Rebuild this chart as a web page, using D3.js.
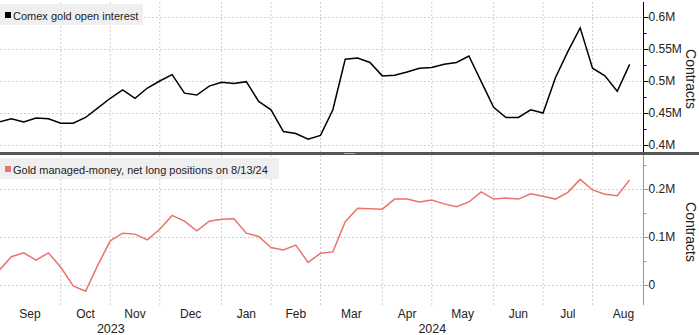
<!DOCTYPE html>
<html>
<head>
<meta charset="utf-8">
<script src="https://cdn.jsdelivr.net/npm/d3@7"></script>
<style>
  html, body { margin: 0; padding: 0; background: #fff; }
  svg { display: block; font-family: "Liberation Sans", Arial, sans-serif; }
</style>
</head>
<body>
<svg id="chart" width="699" height="335"></svg>
<script>
// Weekly observation dates (week ending Friday)
const dates = [
  "2023-09-01","2023-09-08","2023-09-15","2023-09-22","2023-09-29",
  "2023-10-06","2023-10-13","2023-10-20","2023-10-27",
  "2023-11-03","2023-11-10","2023-11-17","2023-11-24",
  "2023-12-01","2023-12-08","2023-12-15","2023-12-22","2023-12-29",
  "2024-01-05","2024-01-12","2024-01-19","2024-01-26",
  "2024-02-02","2024-02-09","2024-02-16","2024-02-23",
  "2024-03-01","2024-03-08","2024-03-15","2024-03-22","2024-03-29",
  "2024-04-05","2024-04-12","2024-04-19","2024-04-26",
  "2024-05-03","2024-05-10","2024-05-17","2024-05-24","2024-05-31",
  "2024-06-07","2024-06-14","2024-06-21","2024-06-28",
  "2024-07-05","2024-07-12","2024-07-19","2024-07-26",
  "2024-08-02","2024-08-09","2024-08-16","2024-08-23"
];

// Comex gold open interest, millions of contracts
const openInterest = [
  0.436, 0.441, 0.436, 0.442, 0.441, 0.434, 0.434, 0.443, 0.458, 0.473,
  0.486, 0.473, 0.489, 0.500, 0.510, 0.481, 0.478, 0.492, 0.498, 0.496,
  0.499, 0.468, 0.455, 0.421, 0.418, 0.409, 0.415, 0.455, 0.534, 0.536,
  0.529, 0.508, 0.509, 0.514, 0.520, 0.521, 0.526, 0.529, 0.539, 0.499,
  0.459, 0.443, 0.443, 0.455, 0.450, 0.505, 0.546, 0.583, 0.520, 0.508,
  0.484, 0.526
];

// Gold managed-money net long positions, millions of contracts
const netLong = [
  0.030, 0.059, 0.067, 0.052, 0.067, 0.037, -0.002, -0.013, 0.042, 0.092,
  0.108, 0.106, 0.094, 0.116, 0.145, 0.133, 0.113, 0.133, 0.137, 0.138,
  0.108, 0.101, 0.078, 0.073, 0.083, 0.047, 0.066, 0.069, 0.132, 0.160,
  0.159, 0.158, 0.179, 0.179, 0.173, 0.177, 0.169, 0.163, 0.173, 0.194,
  0.179, 0.181, 0.179, 0.190, 0.185, 0.179, 0.193, 0.220, 0.198, 0.189,
  0.186, 0.219
];

const topTicks = [0.4, 0.45, 0.5, 0.55, 0.6];
const topMinor = [0.425, 0.475, 0.525, 0.575];
const topTickLabels = ["0.4M", "0.45M", "0.5M", "0.55M", "0.6M"];
const botTicks = [0, 0.1, 0.2];
const botMinor = [0.05, 0.15, 0.25];
const botTickLabels = ["0", "0.1M", "0.2M"];
const monthNames = ["Jan","Feb","Mar","Apr","May","Jun","Jul","Aug","Sep","Oct","Nov","Dec"];

const legendTop = "Comex gold open interest";
const legendBot = "Gold managed-money, net long positions on 8/13/24";
const axisTitle = "Contracts";

const black = "#000000";
const salmon = "#ea736b";
const gridColor = "#cfcfcf";

const svg = d3.select("#chart");
const parse = d3.timeParse("%Y-%m-%d");
const parsed = dates.map(parse);

const axisX = 643;
const x = d3.scaleLinear().domain([0, 52]).range([-1, 642]);

const topPanel = { y0: 2, y1: 152 };
const botPanel = { y0: 155, y1: 305 };

const yTop = d3.scaleLinear().domain([0.4, 0.6]).range([145, 17]);
const yBot = d3.scaleLinear().domain([0, 0.2]).range([285, 189]);

// index of the first observation in each month
const monthStarts = [];
parsed.forEach((d, i) => {
  if (i === 0 || d.getMonth() !== parsed[i - 1].getMonth()) monthStarts.push(i);
});
const gridIdx = monthStarts.slice(1);

function verticalGrid(p) {
  svg.append("g").selectAll("line").data(gridIdx).join("line")
    .attr("x1", d => x(d)).attr("x2", d => x(d))
    .attr("y1", p.y0).attr("y2", p.y1)
    .attr("stroke", gridColor).attr("stroke-width", 1)
    .attr("stroke-dasharray", "2,2");
}

function horizontalGrid(scale, ticks) {
  svg.append("g").selectAll("line").data(ticks).join("line")
    .attr("x1", 0).attr("x2", axisX)
    .attr("y1", d => Math.round(scale(d)) + 0.5).attr("y2", d => Math.round(scale(d)) + 0.5)
    .attr("stroke", gridColor).attr("stroke-width", 1)
    .attr("stroke-dasharray", "2,2");
}

verticalGrid(topPanel);
horizontalGrid(yTop, topTicks);
verticalGrid(botPanel);
horizontalGrid(yBot, botTicks);

// Right-hand value axes
function rightAxis(scale, ticks, labels, minor, color, p) {
  const g = svg.append("g");
  const ax = d3.axisRight(scale).tickValues(ticks).tickSize(5)
    .tickFormat((d, i) => labels[i]);
  const a = g.append("g").attr("transform", `translate(${axisX + 0.5},0)`).call(ax);
  a.select(".domain").remove();
  a.selectAll(".tick line").attr("stroke", color);
  a.selectAll(".tick text").attr("fill", "#222").attr("font-size", 12)
    .attr("x", 5).attr("font-family", "Liberation Sans, Arial, sans-serif");
  const m = g.append("g").attr("transform", `translate(${axisX + 0.5},0)`)
    .call(d3.axisRight(scale).tickValues(minor).tickSize(3).tickFormat(""));
  m.select(".domain").remove();
  m.selectAll(".tick line").attr("stroke", color);
  g.append("line").attr("x1", axisX + 0.5).attr("x2", axisX + 0.5)
    .attr("y1", p.y0).attr("y2", p.y1).attr("stroke", color).attr("stroke-width", 1);
}
rightAxis(yTop, topTicks, topTickLabels, topMinor, black, topPanel);
rightAxis(yBot, botTicks, botTickLabels, botMinor, salmon, botPanel);

// Axis titles, reading top to bottom
svg.append("text").attr("transform", `translate(685.5,${(topPanel.y0 + topPanel.y1) / 2 + 2}) rotate(90)`)
  .attr("text-anchor", "middle").attr("font-size", 14).attr("fill", "#222").text(axisTitle);
svg.append("text").attr("transform", `translate(685.5,${(botPanel.y0 + botPanel.y1) / 2 + 2}) rotate(90)`)
  .attr("text-anchor", "middle").attr("font-size", 14).attr("fill", "#222").text(axisTitle);

// Series lines
const lineTop = d3.line().x((d, i) => x(i)).y(d => yTop(d));
const lineBot = d3.line().x((d, i) => x(i)).y(d => yBot(d));
svg.append("path").datum(openInterest).attr("d", lineTop)
  .attr("fill", "none").attr("stroke", black).attr("stroke-width", 1.5)
  .attr("stroke-linejoin", "miter");
svg.append("path").datum(netLong).attr("d", lineBot)
  .attr("fill", "none").attr("stroke", salmon).attr("stroke-width", 1.5)
  .attr("stroke-linejoin", "miter");

// Panel divider
svg.append("rect").attr("x", 0).attr("y", 152).attr("width", 699).attr("height", 3).attr("fill", "#555");
svg.append("rect").attr("x", 344).attr("y", 153).attr("width", 11).attr("height", 1).attr("fill", "#aaa");

// Legends
function legend(y, w, color, label) {
  const g = svg.append("g");
  g.append("rect").attr("x", 0).attr("y", y).attr("width", w).attr("height", 21).attr("fill", "#efefef");
  g.append("rect").attr("x", 5).attr("y", y + 8).attr("width", 6).attr("height", 6).attr("fill", color);
  g.append("text").attr("x", 13).attr("y", y + 15.5).attr("font-size", 11).attr("fill", "#222").text(label);
}
legend(4, 143, black, legendTop);
legend(158, 279, salmon, legendBot);

// Month labels centred on each month's span of observations
const bounds = monthStarts.concat([monthStarts[monthStarts.length - 1] + 5]);
const months = monthStarts.map((s, k) => ({
  name: monthNames[parsed[s].getMonth()],
  cx: (x(s) + x(bounds[k + 1])) / 2
}));
svg.append("g").selectAll("text").data(months).join("text")
  .attr("x", d => d.cx).attr("y", 318).attr("text-anchor", "middle")
  .attr("font-size", 12).attr("fill", "#222").text(d => d.name);

// Year labels centred on each year's visible span
const janIdx = parsed.findIndex(d => d.getFullYear() === 2024);
const years = [
  { label: "2023", cx: (0 + x(janIdx)) / 2 },
  { label: "2024", cx: (x(janIdx) + axisX) / 2 }
];
svg.append("g").selectAll("text").data(years).join("text")
  .attr("x", d => d.cx).attr("y", 333).attr("text-anchor", "middle")
  .attr("font-size", 12.5).attr("fill", "#222").text(d => d.label);
</script>
</body>
</html>
